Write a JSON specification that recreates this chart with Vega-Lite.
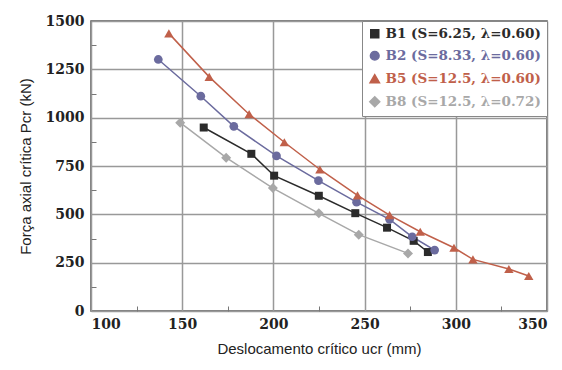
{
  "$schema": "https://vega.github.io/schema/vega-lite/v6.json",
  "width": 456,
  "height": 290,
  "autosize": "none",
  "padding": {"left": 91, "top": 21, "right": 15, "bottom": 59},
  "background": "white",
  "config": {
    "view": {"stroke": "#555555", "strokeWidth": 1.5},
    "axis": {
      "labelFont": "DejaVu Serif",
      "labelFontWeight": "bold",
      "labelFontSize": 14,
      "labelColor": "#222222",
      "titleFont": "Liberation Sans",
      "titleFontWeight": "normal",
      "titleFontSize": 15,
      "titleColor": "#222222",
      "gridColor": "#999999",
      "gridWidth": 1.5,
      "domain": false,
      "tickColor": "#777777"
    }
  },
  "data": {
    "values": [
      {"s": "B1 (S=6.25, λ=0.60)", "u": 161.8, "p": 949},
      {"s": "B1 (S=6.25, λ=0.60)", "u": 187.9, "p": 813},
      {"s": "B1 (S=6.25, λ=0.60)", "u": 200.4, "p": 700},
      {"s": "B1 (S=6.25, λ=0.60)", "u": 224.9, "p": 596},
      {"s": "B1 (S=6.25, λ=0.60)", "u": 244.9, "p": 506},
      {"s": "B1 (S=6.25, λ=0.60)", "u": 262.3, "p": 431},
      {"s": "B1 (S=6.25, λ=0.60)", "u": 276.9, "p": 363},
      {"s": "B1 (S=6.25, λ=0.60)", "u": 284.7, "p": 305},
      {"s": "B2 (S=8.33, λ=0.60)", "u": 136.9, "p": 1301},
      {"s": "B2 (S=8.33, λ=0.60)", "u": 160.2, "p": 1111},
      {"s": "B2 (S=8.33, λ=0.60)", "u": 178.3, "p": 955},
      {"s": "B2 (S=8.33, λ=0.60)", "u": 201.7, "p": 802},
      {"s": "B2 (S=8.33, λ=0.60)", "u": 224.7, "p": 674},
      {"s": "B2 (S=8.33, λ=0.60)", "u": 245.6, "p": 563},
      {"s": "B2 (S=8.33, λ=0.60)", "u": 263.7, "p": 474},
      {"s": "B2 (S=8.33, λ=0.60)", "u": 276.1, "p": 384},
      {"s": "B2 (S=8.33, λ=0.60)", "u": 288.4, "p": 315},
      {"s": "B5 (S=12.5, λ=0.60)", "u": 142.7, "p": 1436},
      {"s": "B5 (S=12.5, λ=0.60)", "u": 164.8, "p": 1211},
      {"s": "B5 (S=12.5, λ=0.60)", "u": 186.7, "p": 1018},
      {"s": "B5 (S=12.5, λ=0.60)", "u": 206.0, "p": 873},
      {"s": "B5 (S=12.5, λ=0.60)", "u": 225.5, "p": 732},
      {"s": "B5 (S=12.5, λ=0.60)", "u": 246.1, "p": 598},
      {"s": "B5 (S=12.5, λ=0.60)", "u": 263.7, "p": 496},
      {"s": "B5 (S=12.5, λ=0.60)", "u": 280.5, "p": 410},
      {"s": "B5 (S=12.5, λ=0.60)", "u": 299.0, "p": 327},
      {"s": "B5 (S=12.5, λ=0.60)", "u": 309.4, "p": 267},
      {"s": "B5 (S=12.5, λ=0.60)", "u": 329.1, "p": 217},
      {"s": "B5 (S=12.5, λ=0.60)", "u": 340.0, "p": 181},
      {"s": "B8 (S=12.5, λ=0.72)", "u": 148.9, "p": 974},
      {"s": "B8 (S=12.5, λ=0.72)", "u": 174.1, "p": 793},
      {"s": "B8 (S=12.5, λ=0.72)", "u": 199.7, "p": 636},
      {"s": "B8 (S=12.5, λ=0.72)", "u": 224.9, "p": 505},
      {"s": "B8 (S=12.5, λ=0.72)", "u": 246.8, "p": 395},
      {"s": "B8 (S=12.5, λ=0.72)", "u": 273.8, "p": 298}
    ]
  },
  "encoding": {
    "x": {
      "field": "u", "type": "quantitative",
      "scale": {"domain": [100, 350], "nice": false, "zero": false},
      "axis": {
        "values": [100,125,150,175,200,225,250,275,300,325,350],
        "labelExpr": "datum.value % 50 == 0 ? datum.label : ''",
        "gridOpacity": {"condition": {"test": "datum.value % 50 != 0", "value": 0}, "value": 1},
        "tickSize": {"condition": {"test": "datum.value % 50 != 0", "value": -5}, "value": 0},
        "labelPadding": 6,
        "title": "Deslocamento crítico ucr (mm)",
        "titlePadding": 10
      }
    },
    "y": {
      "field": "p", "type": "quantitative",
      "scale": {"domain": [0, 1500], "nice": false},
      "axis": {
        "values": [0,125,250,375,500,625,750,875,1000,1125,1250,1375,1500],
        "labelExpr": "datum.value % 250 == 0 ? datum.label : ''",
        "format": "d",
        "gridOpacity": {"condition": {"test": "datum.value % 250 != 0", "value": 0}, "value": 1},
        "tickSize": {"condition": {"test": "datum.value % 250 != 0", "value": -5}, "value": 0},
        "labelPadding": 7,
        "title": "Força axial crítica Pcr (kN)",
        "titlePadding": 12
      }
    },
    "color": {
      "field": "s", "type": "nominal",
      "scale": {
        "domain": ["B1 (S=6.25, λ=0.60)", "B2 (S=8.33, λ=0.60)", "B5 (S=12.5, λ=0.60)", "B8 (S=12.5, λ=0.72)"],
        "range": ["#2b2b2b", "#6b6b9e", "#c0604a", "#a8a8a8"]
      },
      "legend": {
        "title": null,
        "orient": "top-right",
        "offset": 0,
        "fillColor": "white",
        "strokeColor": "#888888",
        "padding": 6,
        "labelFont": "DejaVu Serif",
        "labelFontWeight": "bold",
        "labelFontSize": 13.5,
        "labelLimit": 300,
        "rowPadding": 7,
        "symbolSize": 45,
        "encode": {"labels": {"update": {"fill": {"signal": "scale('color', datum.value)"}}}}
      }
    }
  },
  "layer": [
    {"mark": {"type": "line", "strokeWidth": 1.5}},
    {
      "mark": {"type": "point", "filled": true, "opacity": 1},
      "encoding": {
        "shape": {
          "field": "s", "type": "nominal",
          "scale": {
            "domain": ["B1 (S=6.25, λ=0.60)", "B2 (S=8.33, λ=0.60)", "B5 (S=12.5, λ=0.60)", "B8 (S=12.5, λ=0.72)"],
            "range": ["square", "circle", "triangle-up", "diamond"]
          },
          "legend": null
        },
        "size": {
          "field": "s", "type": "nominal",
          "scale": {
            "domain": ["B1 (S=6.25, λ=0.60)", "B2 (S=8.33, λ=0.60)", "B5 (S=12.5, λ=0.60)", "B8 (S=12.5, λ=0.72)"],
            "range": [64, 100, 70, 80]
          },
          "legend": null
        }
      }
    }
  ]
}
